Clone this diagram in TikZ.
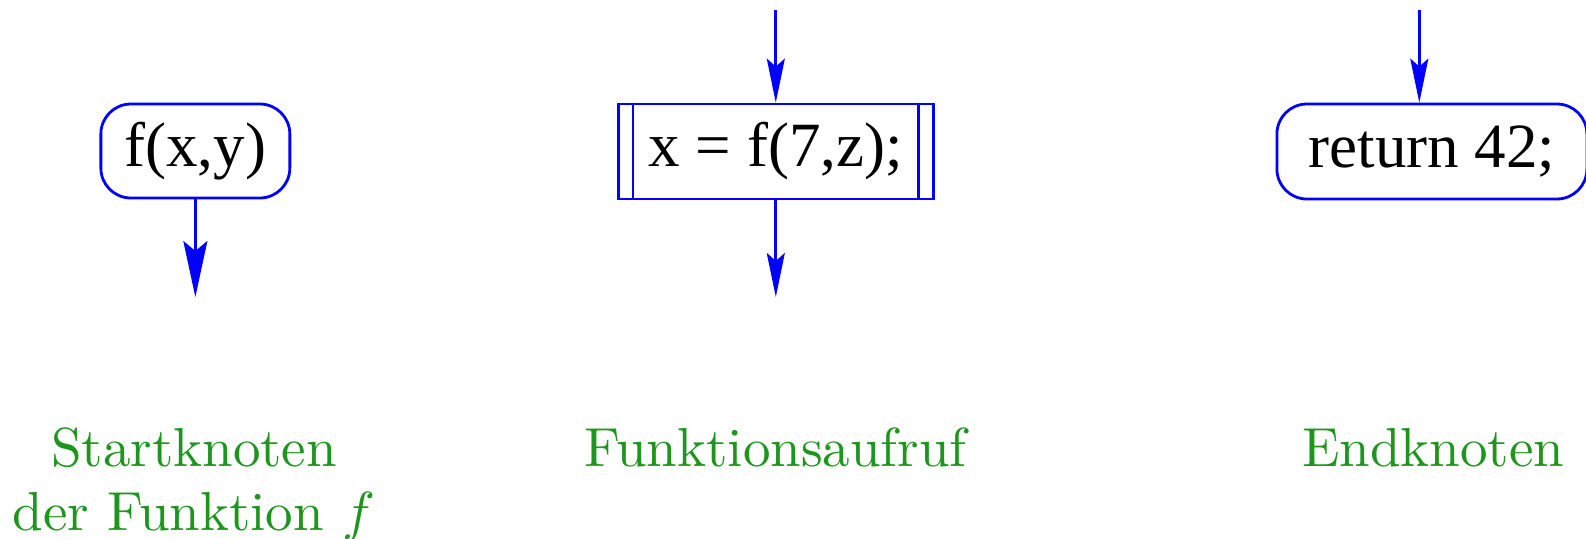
\documentclass[tikz,border=0pt]{standalone}
\usepackage{fontspec}
\newfontfamily\timesf{Liberation Serif}
\usetikzlibrary{arrows.meta}
\definecolor{lblgreen}{RGB}{30,150,30}
\tikzset{
  flow/.style={draw=blue, line width=1.4pt, text=black, inner sep=0pt,
    font=\timesf\fontsize{31.5}{37}\selectfont},
  term/.style={flow, rounded corners=15pt},
  callbox/.style={flow},
  bigarrow/.style={blue, line width=1.4pt, -{Stealth[length=28pt,width=12pt,inset=5pt]}},
  smallarrow/.style={blue, line width=1.4pt, -{Stealth[length=22pt,width=9pt,inset=4pt]}},
  lbl/.style={text=lblgreen, align=center, font=\fontsize{10}{11.5}\selectfont, scale=2.75}
}
\begin{document}
\begin{tikzpicture}[x=0.5pt,y=-0.5pt]
\useasboundingbox (0,0) rectangle (1586,538);
% nodes
\node[term, minimum width=94.5pt, minimum height=47pt] (start) at (195.35,151) {f(x,y)};
\node[callbox, minimum width=157.5pt, minimum height=47.5pt] (call) at (775.8,151.5) {x = f(7,z);};
\draw[blue, line width=1.4pt] ([xshift=8pt]call.north west) -- ([xshift=8pt]call.south west);
\draw[blue, line width=1.4pt] ([xshift=-8.3pt]call.north east) -- ([xshift=-8.3pt]call.south east);
\node[term, minimum width=155pt, minimum height=47.5pt] (ret) at (1431.9,151.5) {return 42;};
% arrows
\coordinate (s1) at (195.35,297);
\draw[bigarrow] (start.south) -- (s1);
\coordinate (c0) at (775.8,10);
\coordinate (c1) at (775.8,297);
\draw[smallarrow] (c0) -- (call.north);
\draw[smallarrow] (call.south) -- (c1);
\coordinate (r0) at (1419.3,10);
\draw[smallarrow] (r0) -- (r0 |- ret.north);
% labels
\node[lbl, anchor=base] (l1) at (194,530) {Startknoten\\der Funktion $f$};
\node[lbl, anchor=base] (l2) at (775.8,466.7) {Funktionsaufruf};
\node[lbl, anchor=base] (l3) at (1433.3,466.7) {Endknoten};
\end{tikzpicture}
\end{document}
